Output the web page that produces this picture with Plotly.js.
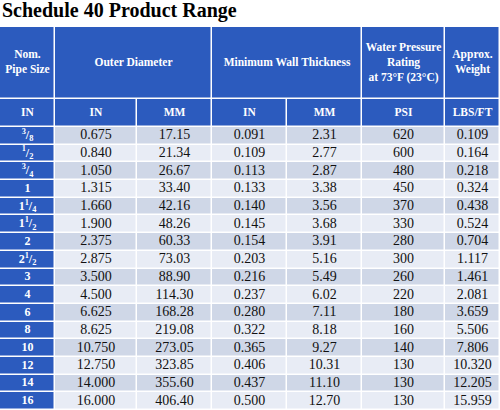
<!DOCTYPE html>
<html>
<head>
<meta charset="utf-8">
<script src="https://cdn.plot.ly/plotly-3.0.1.min.js"></script>
<style>html,body{margin:0;padding:0;background:#fff;}#chart{width:500px;height:410px;}</style>
</head>
<body>
<div id="chart"></div>
<script>
// ---- data ----
const titleText = 'Schedule 40 Product Range';
const groupHeaders = ['Nom.<br>Pipe Size', 'Outer Diameter', 'Minimum Wall Thickness', 'Water Pressure<br>Rating<br>at 73°F (23°C)', 'Approx.<br>Weight'];
const unitHeaders = ['IN', 'IN', 'MM', 'IN', 'MM', 'PSI', 'LBS/FT'];
const pipeSizes = ['3/8', '1/2', '3/4', '1', '1 1/4', '1 1/2', '2', '2 1/2', '3', '4', '6', '8', '10', '12', '14', '16'];
const outerIn = [0.675, 0.840, 1.050, 1.315, 1.660, 1.900, 2.375, 2.875, 3.500, 4.500, 6.625, 8.625, 10.750, 12.750, 14.000, 16.000];
const outerMm = [17.15, 21.34, 26.67, 33.40, 42.16, 48.26, 60.33, 73.03, 88.90, 114.30, 168.28, 219.08, 273.05, 323.85, 355.60, 406.40];
const wallIn = [0.091, 0.109, 0.113, 0.133, 0.140, 0.145, 0.154, 0.203, 0.216, 0.237, 0.280, 0.322, 0.365, 0.406, 0.437, 0.500];
const wallMm = [2.31, 2.77, 2.87, 3.38, 3.56, 3.68, 3.91, 5.16, 5.49, 6.02, 7.11, 8.18, 9.27, 10.31, 11.10, 12.70];
const psi = [620, 600, 480, 450, 370, 330, 280, 300, 260, 220, 180, 160, 140, 130, 130, 130];
const weightLbsFt = [0.109, 0.164, 0.218, 0.324, 0.438, 0.524, 0.704, 1.117, 1.461, 2.081, 3.659, 5.506, 7.806, 10.320, 12.205, 15.959];

// ---- layout geometry (not data) ----
const colEdges = [0, 55, 137, 212, 287, 362, 445, 500];
const groupEdges = [0, 55, 212, 362, 445, 500];
const tableTop = 27, groupBottom = 99, unitBottom = 127, tableBottom = 410;
const nRows = pipeSizes.length;
const rowH = (tableBottom - unitBottom) / nRows;
const rowEdges = [];
for (let i = 0; i <= nRows; i++) rowEdges.push(unitBottom + i * rowH);
const mids = e => e.slice(1).map((v, i) => (v + e[i]) / 2);
const colMid = mids(colEdges), groupMid = mids(groupEdges), rowMid = mids(rowEdges);

const BLUE = '#2c5bbe';
const DARK = '#cfd7e7';
const LIGHT = '#e8ecf5';
const serif = 'Liberation Serif';

const blueScale = [[0, BLUE], [1, BLUE]];
const stripeScale = [[0, DARK], [1, LIGHT]];

// format "1 1/4" as 1<sup>1</sup>/<sub>4</sub>
function fmtSize(s) {
  if (s.indexOf('/') < 0) return s;
  const parts = s.split(' ');
  const whole = parts.length === 2 ? parts[0] : '';
  const [n, d] = parts[parts.length - 1].split('/');
  return whole + '<sup>' + n + '</sup>/<sub>' + d + '</sub>';
}

const bodyCols = [
  outerIn.map(v => v.toFixed(3)),
  outerMm.map(v => v.toFixed(2)),
  wallIn.map(v => v.toFixed(3)),
  wallMm.map(v => v.toFixed(2)),
  psi.map(v => String(v)),
  weightLbsFt.map(v => v.toFixed(3))
];
const bodyZ = [];
for (let r = 0; r < nRows; r++) bodyZ.push(bodyCols.map(() => r % 2));

const cell = {type: 'heatmap', showscale: false, hoverinfo: 'skip', xgap: 1.5, ygap: 1.5, zmin: 0, zmax: 1};

const traces = [
  Object.assign({}, cell, {x: groupEdges, y: [tableTop, groupBottom], z: [groupHeaders.map(() => 0)], colorscale: blueScale}),
  Object.assign({}, cell, {x: colEdges, y: [groupBottom, unitBottom], z: [unitHeaders.map(() => 0)], colorscale: blueScale}),
  Object.assign({}, cell, {x: colEdges.slice(0, 2), y: rowEdges, z: pipeSizes.map(() => [0]), colorscale: blueScale}),
  Object.assign({}, cell, {x: colEdges.slice(1), y: rowEdges, z: bodyZ, colorscale: stripeScale}),
  {type: 'scatter', mode: 'text', hoverinfo: 'skip', x: groupMid, y: groupMid.map(() => (tableTop + groupBottom) / 2),
   text: groupHeaders.map(t => '<b>' + t + '</b>'), textposition: 'middle center',
   textfont: {family: serif, size: 11.5, color: '#ffffff'}},
  {type: 'scatter', mode: 'text', hoverinfo: 'skip', x: colMid, y: colMid.map(() => (groupBottom + unitBottom) / 2),
   text: unitHeaders.map(t => '<b>' + t + '</b>'), textposition: 'middle center',
   textfont: {family: serif, size: 11.5, color: '#ffffff'}},
  {type: 'scatter', mode: 'text', hoverinfo: 'skip', x: rowMid.map(() => colMid[0]), y: rowMid,
   text: pipeSizes.map(s => '<b>' + fmtSize(s) + '</b>'), textposition: 'middle center',
   textfont: {family: serif, size: 12, color: '#ffffff'}}
];
bodyCols.forEach((col, c) => {
  traces.push({type: 'scatter', mode: 'text', hoverinfo: 'skip', x: rowMid.map(() => colMid[c + 1]), y: rowMid,
    text: col, textposition: 'middle center', textfont: {family: serif, size: 14, color: '#111111'}});
});

const layout = {
  width: 500, height: 410,
  margin: {l: 0, r: 0, t: 0, b: 0, pad: 0},
  paper_bgcolor: '#ffffff', plot_bgcolor: '#ffffff',
  font: {family: serif, size: 14, color: '#111111'},
  showlegend: false,
  title: {
    text: '<b>' + titleText + '</b>',
    font: {family: serif, size: 20, color: '#000000'},
    x: 0.004, xanchor: 'left', xref: 'paper',
    y: 0.992, yanchor: 'top', yref: 'container'
  },
  xaxis: {range: [0, 500], visible: false, fixedrange: true},
  yaxis: {range: [tableBottom, 0], visible: false, fixedrange: true}
};

Plotly.newPlot('chart', traces, layout, {displayModeBar: false, staticPlot: true});
</script>
</body>
</html>
